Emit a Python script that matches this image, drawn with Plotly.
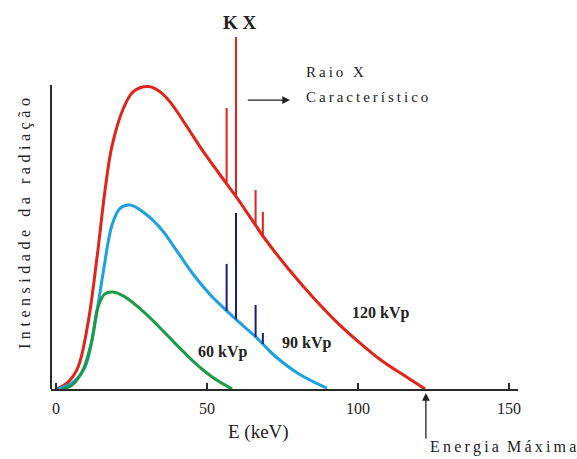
import plotly.graph_objects as go

# ---- data ----
red_E = [0.3, 4.0, 7.3, 10.6, 13.6, 16.2, 18.5, 22.3, 25.6, 30.6, 34.4, 37.7, 43.0, 48.8, 56.3, 59.6, 62.6, 65.9, 68.5, 77.0, 86.0, 93.5, 100.0, 107.8, 115.6, 122.2]
red_I = [0, 2.3, 7.3, 22, 44, 66.0, 80.8, 93.5, 99.1, 100.8, 99.1, 95.8, 88.0, 79.1, 68.7, 64.2, 59.8, 54.9, 51.0, 40.0, 29.6, 21.8, 15.9, 9.5, 4.3, 0]

blue_E = [0.7, 5.3, 9.6, 12.9, 15.6, 18.5, 21.2, 24.5, 29.5, 35.1, 40.5, 46.0, 51.0, 56.3, 59.6, 65.9, 68.5, 72.5, 80.2, 89.7]
blue_I = [0, 2, 7.3, 22, 38.7, 54.5, 60.2, 61.3, 58.5, 53, 45.3, 37.5, 31.5, 26.3, 23.2, 17.6, 15.0, 11.0, 5.2, 0.3]

green_E = [2.0, 5.3, 8.9, 11.9, 13.9, 16.2, 18.9, 22.8, 29.5, 38.4, 46.0, 51.7, 58.3]
green_I = [0, 1.3, 6.3, 16.3, 27.3, 31.7, 32.3, 30.7, 25.3, 16.3, 8.7, 4, 0]

# characteristic lines (energy, base on curve, top)
char_E = [56.5, 59.6, 66.1, 68.5]
red_char_base = [68.7, 64.2, 54.7, 51]
red_char_top = [93.7, 117.3, 66.3, 59]
blue_char_base = [26.1, 23.2, 17.4, 15.0]
blue_char_top = [41.7, 58.7, 28, 18.7]

x_ticks = [0, 50, 100, 150]
curve_labels = ["120 kVp", "90 kVp", "60 kVp"]

RED = "#e2231a"
BLUE = "#1ba1e2"
GREEN = "#1d9a47"
NAVY = "#1e1a78"
SERIF = "Liberation Serif"
TS = "\u2009"  # thin space for letter spacing


def spaced(s, sep=TS):
    return sep.join(list(s))


fig = go.Figure()
for E, I, c in [(red_E, red_I, RED), (blue_E, blue_I, BLUE), (green_E, green_I, GREEN)]:
    fig.add_trace(go.Scatter(x=E, y=I, mode="lines", line=dict(color=c, width=3, shape="spline", smoothing=1.0),
                             hoverinfo="skip", showlegend=False))


def vlines(xs, b, t, color):
    X, Y = [], []
    for x0, y0, y1 in zip(xs, b, t):
        X += [x0, x0, None]
        Y += [y0, y1, None]
    return go.Scatter(x=X, y=Y, mode="lines", line=dict(color=color, width=2), showlegend=False, hoverinfo="skip")


fig.add_trace(vlines(char_E, red_char_base, red_char_top, RED))
fig.add_trace(vlines(char_E, blue_char_base, blue_char_top, NAVY))

# y axis line (only up to ~101)
fig.add_shape(type="line", xref="paper", yref="y", x0=0, x1=0, y0=0, y1=101.3,
              line=dict(color="#2a2a2a", width=2))

DARK = "#222"
anns = [
    dict(x=61.0, y=122.2, text="<b>K X</b>", font=dict(size=19, family=SERIF, color=DARK), xanchor="center"),
    dict(x=82, y=105.7, text=spaced("Raio X"), font=dict(size=15, family=SERIF, color=DARK), xanchor="left"),
    dict(x=82, y=97.3, text=spaced("Característico"), font=dict(size=15, family=SERIF, color=DARK), xanchor="left"),
    dict(x=107.5, y=25.5, text="<b>" + curve_labels[0] + "</b>", font=dict(size=16, family=SERIF, color=DARK), xanchor="center"),
    dict(x=83, y=15.3, text="<b>" + curve_labels[1] + "</b>", font=dict(size=16, family=SERIF, color=DARK), xanchor="center"),
    dict(x=55, y=12.3, text="<b>" + curve_labels[2] + "</b>", font=dict(size=16, family=SERIF, color=DARK), xanchor="center"),
]
for a in anns:
    a.update(xref="x", yref="y", showarrow=False)
    fig.add_annotation(**a)

# arrow to "Raio X Característico"
fig.add_annotation(xref="x", yref="y", axref="x", ayref="y", x=77.5, y=96.3, ax=63, ay=96.3,
                   showarrow=True, arrowhead=2, arrowsize=1.2, arrowwidth=1.3, arrowcolor=DARK, text="")
# Energia Maxima arrow
fig.add_annotation(xref="x", yref="paper", axref="pixel", ayref="pixel", x=122.5, y=-0.011, ax=0, ay=47,
                   showarrow=True, arrowhead=2, arrowsize=1.2, arrowwidth=1.3, arrowcolor=DARK, text="")
fig.add_annotation(xref="paper", yref="paper", x=(428 - 51) / 467, y=-58 / 369, xanchor="left", yanchor="middle",
                   text=spaced("Energia") + "\u00a0 " + spaced("Máxima"), showarrow=False,
                   font=dict(size=16, family=SERIF, color=DARK))
fig.add_annotation(xref="paper", yref="paper", x=(258 - 51) / 467, y=-43 / 369, xanchor="center", yanchor="middle",
                   text="E (keV)", showarrow=False, font=dict(size=19, family=SERIF, color=DARK))
YS = "\u2009\u200a"
WS = YS + "\u00a0" + YS
fig.add_annotation(xref="paper", yref="paper", x=(25 - 51) / 467, y=(389 - 224) / 369, xanchor="center", yanchor="middle",
                   text=spaced("Intensidade", YS) + WS + spaced("da", YS) + WS + spaced("radiação", YS), textangle=-90,
                   showarrow=False, font=dict(size=16, family=SERIF, color=DARK))

fig.update_layout(
    width=577, height=459,
    margin=dict(l=51, r=59, t=20, b=70),
    paper_bgcolor="white", plot_bgcolor="white",
    xaxis=dict(range=[-1.66, 153], tickvals=x_ticks, ticktext=[str(v) for v in x_ticks],
               showgrid=False, zeroline=False, showline=True, linecolor="#2a2a2a", linewidth=2,
               ticks="inside", ticklen=6, tickwidth=1.5, tickcolor="#2a2a2a", ticklabelstandoff=4,
               tickfont=dict(size=16, family=SERIF, color=DARK)),
    yaxis=dict(range=[0, 123], showgrid=False, zeroline=False, showline=False,
               showticklabels=False, ticks=""),
)

fig.write_html("out.html")
